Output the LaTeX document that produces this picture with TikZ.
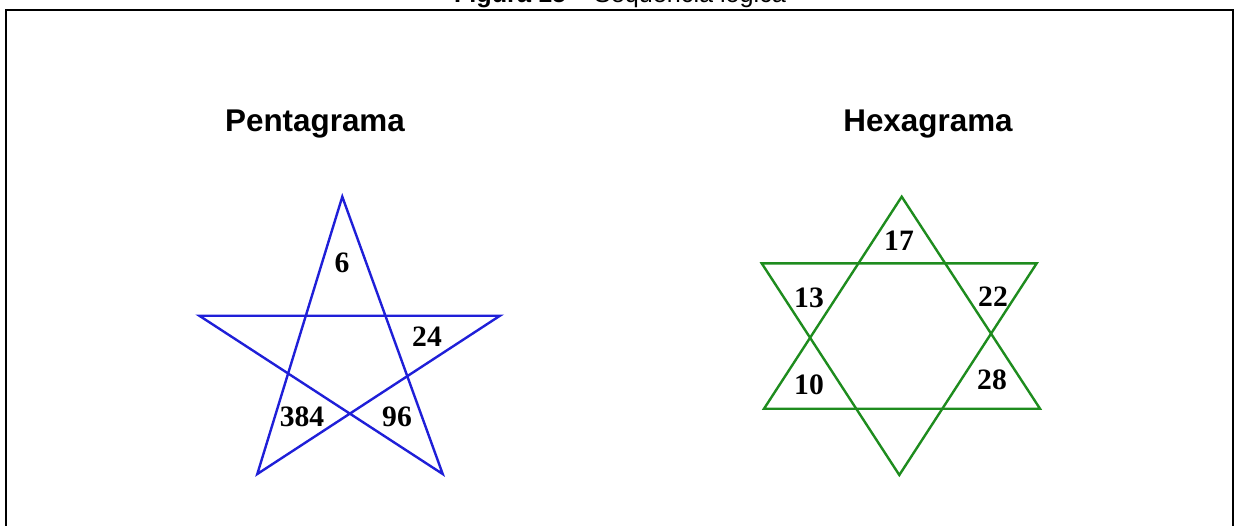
\documentclass[tikz,border=0pt]{standalone}
\usepackage{fontspec}
\setmainfont{Liberation Sans}
\newfontfamily\numfont{Liberation Serif}
\usepackage{xcolor}
\usepackage{tikz}
\usetikzlibrary{positioning,calc}
\definecolor{penta}{HTML}{1F1FD8}
\definecolor{hexa}{HTML}{1E8C1E}
\tikzset{
  frame/.style={line width=1pt, draw=black},
  pline/.style={line width=1.2pt, draw=penta, line join=miter},
  hline/.style={line width=1.2pt, draw=hexa, line join=miter},
  headt/.style={font=\fontsize{15.7}{18}\selectfont\bfseries, anchor=base, inner sep=0pt},
  numt/.style={font=\numfont\fontsize{14.8}{17}\selectfont\bfseries, inner sep=0pt},
  capt/.style={font=\fontsize{12.6}{15}\selectfont, anchor=base, inner sep=0pt},
}

\begin{document}
\begin{tikzpicture}[x=0.5pt, y=-0.5pt]
\useasboundingbox (0,0) rectangle (1235,525);
\clip (0,0) rectangle (1235,525);

% caption and frame
\node[capt] (cap) at (620,2) {\textbf{Figura 15} -- Sequência lógica};
\draw[frame] (6,540) -- (6,10) -- (1233,10) -- (1233,540);

% headings
\node[headt] (hp) at (315,131) {Pentagrama};
\node[headt] (hh) at (928,131) {Hexagrama};

% pentagram
\coordinate (pt) at (342.3,196.7);
\coordinate (pl) at (199.3,315.7);
\coordinate (pr) at (500,315.7);
\coordinate (pbl) at (257.3,474);
\coordinate (pbr) at (442.7,474);
\draw[pline] (pt) -- (pbr) -- (pl) -- (pr) -- (pbl) -- cycle;

\node[numt] (n6) at (342,263) {6};
\node[numt] (n24) at (427,337) {24};
\node[numt] (n384) at (302,417) {384};
\node[numt] (n96) at (397,417) {96};

% hexagram
\coordinate (ht) at (901.7,196.7);
\coordinate (hll) at (764,408.7);
\coordinate (hlr) at (1040,408.7);
\coordinate (hul) at (761.7,263.3);
\coordinate (hur) at (1036.7,263.3);
\coordinate (hb) at (899.3,475);
\draw[hline] (ht) -- (hlr) -- (hll) -- cycle;
\draw[hline] (hul) -- (hur) -- (hb) -- cycle;

\node[numt] (n17) at (899,241) {17};
\node[numt] (n13) at (809,298) {13};
\node[numt] (n22) at (993,297) {22};
\node[numt] (n10) at (809,385) {10};
\node[numt] (n28) at (992,380) {28};
\end{tikzpicture}
\end{document}
